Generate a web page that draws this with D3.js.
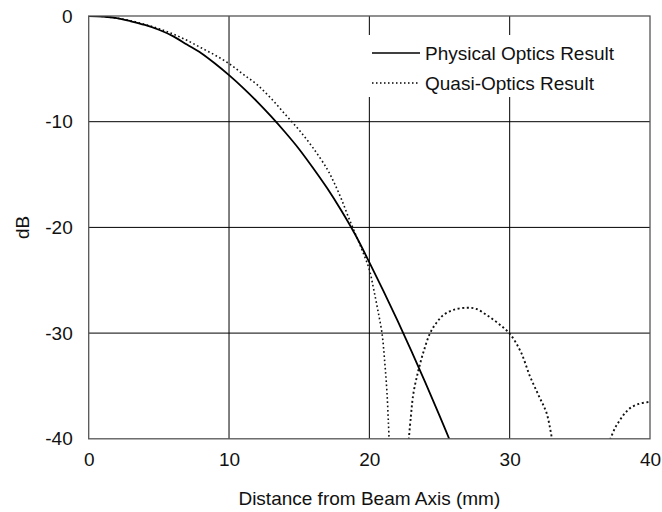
<!DOCTYPE html>
<html>
<head>
<meta charset="utf-8">
<script src="https://cdn.jsdelivr.net/npm/d3@7"></script>
<style>
  body { margin: 0; background: #fff; }
  svg text { font-family: "Liberation Sans", Arial, Helvetica, sans-serif; fill: #111; }
</style>
</head>
<body>
<svg id="chart" width="662" height="512"></svg>
<script>
// Beam pattern in dB vs. distance from the beam axis (mm)
const xTicks = [0, 10, 20, 30, 40];
const yTicks = [0, -10, -20, -30, -40];

// Physical optics result
const poX = [0, 1, 2, 3, 4, 5, 6, 7, 8, 9, 10, 11, 12, 13, 14, 15, 16, 17, 18, 19, 20, 21, 22, 23, 24, 25, 26];
const poY = [0, -0.05, -0.2, -0.5, -0.85, -1.3, -1.9, -2.7, -3.5, -4.5, -5.6, -6.8, -8.1, -9.5, -11.0, -12.6, -14.4, -16.3, -18.4, -20.7, -23.3, -26.0, -28.8, -31.7, -34.7, -37.8, -41.0];

// Quasi-optics result (main lobe and two side lobes, in the order traced)
const qoX = [0, 1, 2, 3, 4, 5, 6, 7, 8, 9, 10, 11, 12, 13, 14, 15, 16, 17, 17.5, 18, 18.5, 19, 19.5, 20.0, 20.3, 20.6, 20.9, 21.1, 21.25, 21.36, 21.42,
             22.78, 22.95, 23.14, 23.5, 23.9, 24.33, 24.8, 25.27, 26.0, 26.94, 27.6, 28.37, 29.2, 30.03, 30.8, 31.45, 32.1, 32.64, 33.07,
             37.04, 37.5, 37.87, 38.2, 38.58, 39.2, 40];
const qoY = [0, -0.05, -0.2, -0.45, -0.8, -1.2, -1.7, -2.3, -3.0, -3.7, -4.5, -5.5, -6.5, -7.8, -9.3, -10.8, -12.5, -14.5, -15.8, -17.3, -19.0, -20.6, -22.2, -24.0, -25.8, -27.8, -30.0, -32.8, -35.5, -38.5, -40.5,
             -40.5, -38.0, -35.7, -33.5, -31.6, -30.0, -29.0, -28.3, -27.8, -27.6, -27.7, -28.3, -29.1, -30.1, -31.8, -34.1, -36.0, -37.6, -40.5,
             -40.5, -39.0, -38.2, -37.6, -37.1, -36.7, -36.5];

const legendLabels = ["Physical Optics Result", "Quasi-Optics Result"];

const FS = 19;
const svg = d3.select("#chart");
const margin = { left: 88.7, top: 16, right: 662 - 650, bottom: 512 - 438.8 };
const W = 662 - margin.left - margin.right;
const H = 512 - margin.top - margin.bottom;

const x = d3.scaleLinear().domain([0, 40]).range([0, W]);
const y = d3.scaleLinear().domain([-40, 0]).range([H, 0]);

const g = svg.append("g").attr("transform", `translate(${margin.left},${margin.top})`);

// grid lines
g.append("g").selectAll("line").data(xTicks.slice(1, -1)).join("line")
  .attr("x1", d => x(d)).attr("x2", d => x(d)).attr("y1", 0).attr("y2", H)
  .attr("stroke", "#000").attr("stroke-width", 1);
g.append("g").selectAll("line").data(yTicks.slice(1, -1)).join("line")
  .attr("x1", 0).attr("x2", W).attr("y1", d => y(d)).attr("y2", d => y(d))
  .attr("stroke", "#000").attr("stroke-width", 1);

// clip for curves
svg.append("defs").append("clipPath").attr("id", "plotClip")
  .append("rect").attr("x", 0).attr("y", 0).attr("width", W).attr("height", H);

const curveLine = d3.line().x(d => x(d[0])).y(d => y(d[1])).curve(d3.curveCatmullRom);

const poData = poX.map((v, i) => [v, poY[i]]);
const qoData = qoX.map((v, i) => [v, qoY[i]]);
const lobes = [[0, 31], [31, 50], [50, qoX.length]];

const curves = g.append("g").attr("clip-path", "url(#plotClip)");
lobes.forEach(([a, b], k) => {
  curves.append("path").datum(qoData.slice(a, b))
    .attr("d", curveLine)
    .attr("fill", "none").attr("stroke", "#111").attr("stroke-width", k === 0 ? 1.6 : 1.9)
    .attr("stroke-dasharray", k === 0 ? "1.6,2.6" : "2,2.6");
});
curves.append("path").datum(poData)
  .attr("d", curveLine)
  .attr("fill", "none").attr("stroke", "#000").attr("stroke-width", 1.8);

// frame
g.append("rect").attr("x", 0).attr("y", 0).attr("width", W).attr("height", H)
  .attr("fill", "none").attr("stroke", "#555").attr("stroke-width", 1.3);

// legend (white panel over the grid)
const lg = g.append("g").attr("transform", `translate(${366 - margin.left},${35 - margin.top})`);
lg.append("rect").attr("x", 0).attr("y", 0).attr("width", 272).attr("height", 62).attr("fill", "#fff");
legendLabels.forEach((lab, i) => {
  const yy = 18 + i * 30;
  lg.append("line").attr("x1", 6).attr("x2", 54).attr("y1", yy).attr("y2", yy)
    .attr("stroke", "#000").attr("stroke-width", i === 0 ? 1.6 : 1.3)
    .attr("stroke-dasharray", i === 0 ? null : "1.5,2.5");
  lg.append("text").attr("x", 59).attr("y", yy).attr("dy", "0.35em")
    .attr("font-size", FS).text(lab);
});

// tick labels (plain hyphen for negatives)
const fmt = d => String(d);
const xAxis = d3.axisBottom(x).tickValues(xTicks).tickSize(0).tickPadding(14).tickFormat(fmt);
const xa = g.append("g").attr("transform", `translate(0,${H})`).call(xAxis);
xa.select(".domain").remove();
xa.selectAll("text").attr("font-size", FS).attr("fill", "#111")
  .attr("font-family", "Liberation Sans, Arial, sans-serif");

const yAxis = d3.axisLeft(y).tickValues(yTicks).tickSize(0).tickPadding(16).tickFormat(fmt);
const ya = g.append("g").call(yAxis);
ya.select(".domain").remove();
ya.selectAll("text").attr("font-size", FS).attr("fill", "#111")
  .attr("font-family", "Liberation Sans, Arial, sans-serif");

// axis titles
svg.append("text").attr("x", margin.left + W / 2).attr("y", 498).attr("dy", "0.35em")
  .attr("text-anchor", "middle").attr("font-size", FS).text("Distance from Beam Axis (mm)");
svg.append("text").attr("transform", `translate(22,${margin.top + H / 2}) rotate(-90)`)
  .attr("dy", "0.35em").attr("text-anchor", "middle").attr("font-size", FS).text("dB");
</script>
</body>
</html>
